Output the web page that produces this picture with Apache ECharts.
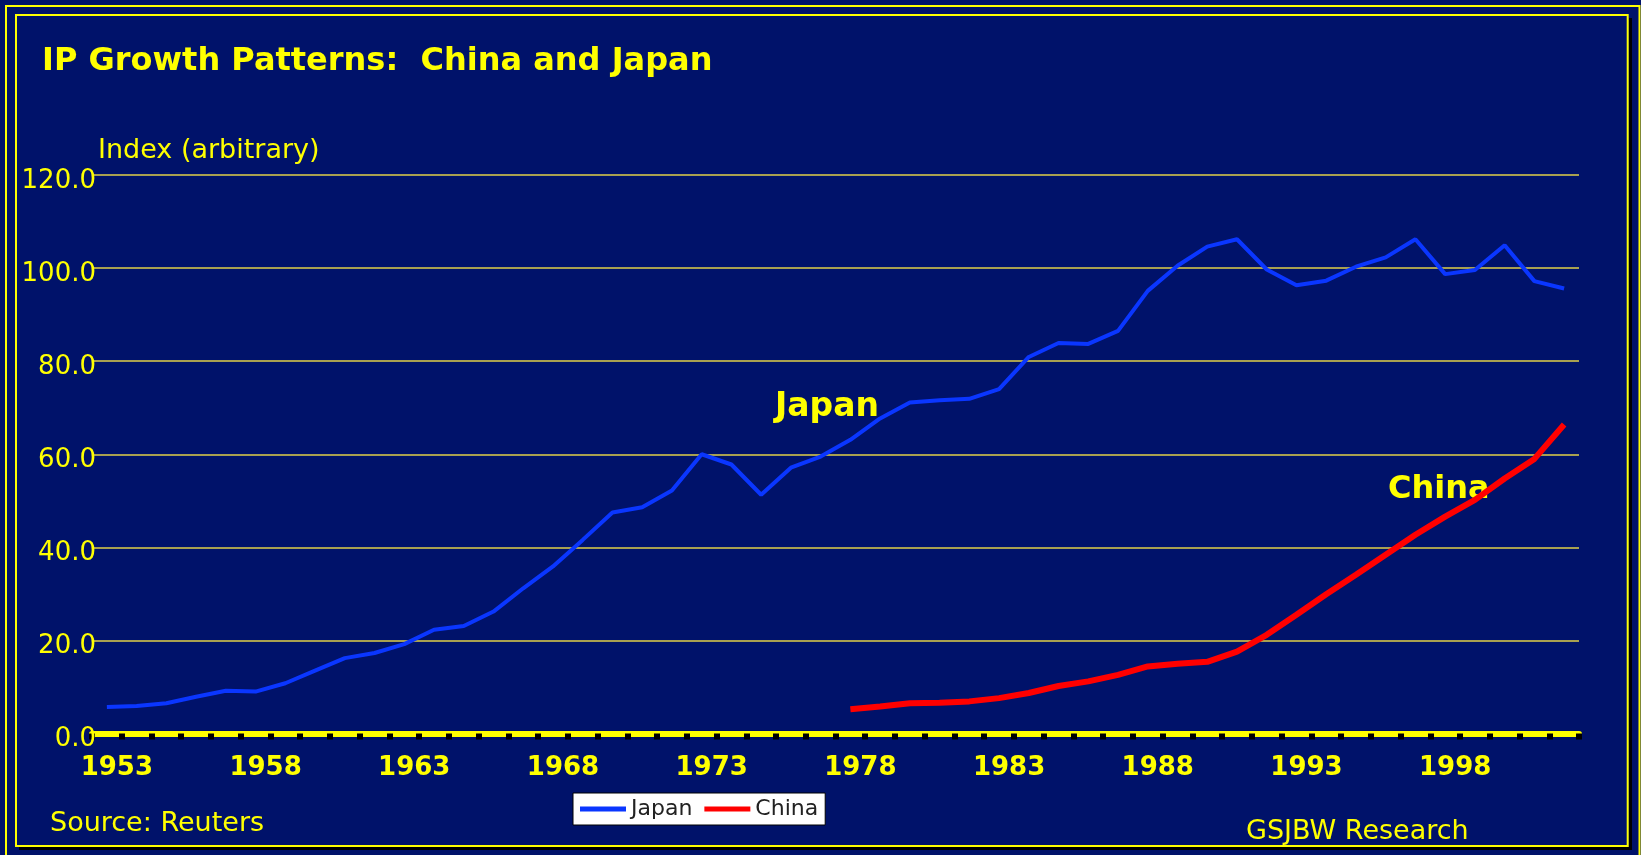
<!DOCTYPE html>
<html>
<head>
<meta charset="utf-8">
<script src="https://cdn.jsdelivr.net/npm/echarts@6/dist/echarts.min.js"></script>
<style>
html,body{margin:0;padding:0;background:#00126A;}
#chart{width:1641px;height:855px;}
</style>
</head>
<body>
<div id="chart"></div>
<script>
// ---- data ----
const years = [];
for (let y = 1953; y <= 2002; y++) years.push(String(y));

const japanValues = [
  5.7, 5.9, 6.5, 7.9, 9.2, 9.0, 10.8, 13.5, 16.2, 17.3,
  19.2, 22.3, 23.1, 26.2, 31.2, 35.9, 41.6, 47.5, 48.6, 52.2,
  60.0, 57.8, 51.3, 57.1, 59.5, 63.1, 67.7, 71.1, 71.6, 71.9,
  74.0, 80.9, 83.9, 83.7, 86.5, 95.1, 100.5, 104.6, 106.2, 99.7,
  96.3, 97.3, 100.3, 102.3, 106.2, 98.7, 99.6, 104.9, 97.2, 95.6
];

const chinaStartYear = '1978';
const chinaValues = [
  5.2, 5.8, 6.5, 6.6, 6.9, 7.6, 8.7, 10.2, 11.2, 12.6,
  14.4, 15.0, 15.4, 17.6, 21.2, 25.5, 29.9, 34.1, 38.4, 42.7,
  46.6, 50.2, 54.8, 59.0, 66.4
];

const yTicks = [0, 20, 40, 60, 80, 100, 120];

// ---- chart ----
const FONT = 'DejaVu Sans';
const YEL = '#FFFF00';
const chinaYears = years.slice(years.indexOf(chinaStartYear));

const chart = echarts.init(document.getElementById('chart'), null, {renderer: 'canvas'});
chart.setOption({
  animation: false,
  backgroundColor: '#00126A',
  grid: {left: 92, right: 62, top: 175, bottom: 121.5, containLabel: false},
  legend: {
    data: ['Japan', 'China'],
    left: 573, top: 793,
    icon: 'rect', itemWidth: 46, itemHeight: 5, itemGap: 12,
    backgroundColor: '#FFFFFF', borderColor: '#000000', borderWidth: 1,
    padding: [5, 7, 5, 7],
    textStyle: {color: '#222222', fontSize: 22, fontFamily: FONT, lineHeight: 22}
  },
  xAxis: {
    type: 'category',
    data: years,
    boundaryGap: true,
    axisLine: {lineStyle: {color: YEL, width: 6}},
    axisTick: {show: true, interval: 0, length: 6, lineStyle: {color: '#000000', width: 6}},
    axisLabel: {
      interval: 4, color: YEL, fontSize: 26, fontWeight: 'bold', fontFamily: FONT,
      margin: 35, verticalAlign: 'middle', padding: [0, 0, 0, 20]
    },
    splitLine: {show: false}
  },
  yAxis: {
    type: 'value',
    min: yTicks[0], max: yTicks[yTicks.length - 1], interval: yTicks[1] - yTicks[0],
    axisLine: {show: false},
    axisTick: {show: false},
    axisLabel: {
      color: YEL, fontSize: 26, fontFamily: FONT, margin: -4,
      verticalAlign: 'top', lineHeight: 12,
      formatter: v => v.toFixed(1)
    },
    splitLine: {lineStyle: {color: '#A8A050', width: 2}}
  },
  series: [
    {
      name: 'Japan', type: 'line', data: japanValues,
      showSymbol: false, symbol: 'none', z: 3,
      itemStyle: {color: '#0A36FF'},
      lineStyle: {color: '#0A36FF', width: 4}
    },
    {
      name: 'China', type: 'line',
      data: chinaValues.map((v, i) => [chinaYears[i], v]),
      showSymbol: false, symbol: 'none', z: 4,
      itemStyle: {color: '#FF0000'},
      lineStyle: {color: '#FF0000', width: 6}
    }
  ],
  graphic: [
    {type: 'rect', z: 0, silent: true, shape: {x: 6, y: 6, width: 1633.5, height: 860},
     style: {fill: null, stroke: YEL, lineWidth: 2}},
    {type: 'line', z: 0, silent: true, shape: {x1: 1630.5, y1: 18, x2: 1630.5, y2: 849.5},
     style: {stroke: '#000000', lineWidth: 3}},
    {type: 'line', z: 0, silent: true, shape: {x1: 19, y1: 848.5, x2: 1632, y2: 848.5},
     style: {stroke: '#000000', lineWidth: 3}},
    {type: 'rect', z: 1, silent: true, shape: {x: 16, y: 15, width: 1611.7, height: 831},
     style: {fill: null, stroke: YEL, lineWidth: 2}},
    {type: 'text', z: 1, left: 42, top: 46,
     style: {text: 'IP Growth Patterns:  China and Japan', fill: YEL, font: 'bold 32px "DejaVu Sans"'}},
    {type: 'text', z: 1, x: 98, y: 151,
     style: {text: 'Index (arbitrary)', fill: YEL, font: '27px "DejaVu Sans"', verticalAlign: 'middle'}},
    {type: 'text', z: 1, x: 50, y: 824,
     style: {text: 'Source: Reuters', fill: YEL, font: '27px "DejaVu Sans"', verticalAlign: 'middle'}},
    {type: 'text', z: 1, x: 1246, y: 832,
     style: {text: 'GSJBW Research', fill: YEL, font: '27px "DejaVu Sans"', verticalAlign: 'middle'}},
    {type: 'text', z: 1, x: 775, y: 407,
     style: {text: 'Japan', fill: YEL, font: 'bold 33px "DejaVu Sans"', verticalAlign: 'middle'}},
    {type: 'text', z: 1, x: 1388, y: 490,
     style: {text: 'China', fill: YEL, font: 'bold 32px "DejaVu Sans"', verticalAlign: 'middle'}}
  ]
});
</script>
</body>
</html>
